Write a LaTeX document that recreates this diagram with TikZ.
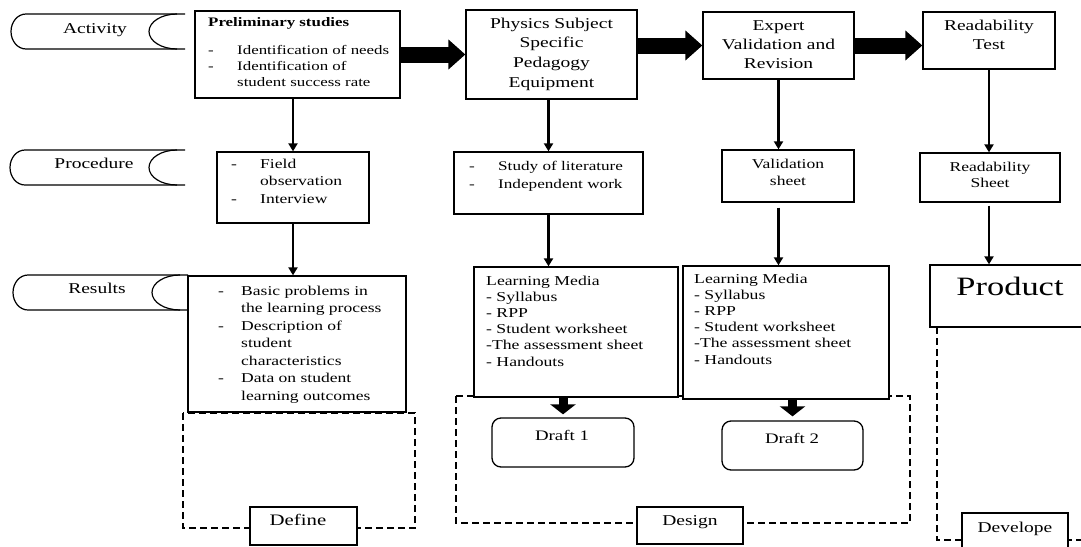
\documentclass[tikz,border=0pt]{standalone}
\usepackage{fontspec}
\setmainfont{Liberation Serif}[FakeStretch=1.3]
\usetikzlibrary{arrows.meta,calc}
\newcommand\leftlines[1]{\vtop{\halign{##\hfil\cr#1\crcr}}}
\newcommand\centerlines[1]{\vtop{\halign{\hfil##\hfil\cr#1\crcr}}}
\newcommand\dashw[1]{\hbox to #1{-\hfil}}
\newcommand\fsz[2]{\fontsize{#1}{#2}\selectfont}
\newcommand\tabshape[4]{%
  \draw[tabline] ({#1+15},#2) -- (#3,#2) (#3,#4) -- ({#1+15},#4)
    .. controls ({#1+15-0.552*15},#4) and (#1,{(#2+#4)/2+0.552*(#4-#2)/2}) .. (#1,{(#2+#4)/2})
    .. controls (#1,{(#2+#4)/2-0.552*(#4-#2)/2}) and ({#1+15-0.552*15},#2) .. ({#1+15},#2);
  \draw[tabline] ({#3-8},#2)
    .. controls ({#3-8-0.552*28},#2) and ({#3-36},{(#2+#4)/2-0.552*(#4-#2)/2}) .. ({#3-36},{(#2+#4)/2})
    .. controls ({#3-36},{(#2+#4)/2+0.552*(#4-#2)/2}) and ({#3-8-0.552*28},#4) .. ({#3-8},#4);
}
\begin{document}
\begin{tikzpicture}[x=1pt,y=-1pt,
  box/.style={draw, line width=1.3pt, fill=white, inner sep=0pt, rectangle},
  dashbox/.style={draw, line width=1.1pt, dash pattern=on 7pt off 4pt},
  conn/.style={line width=2.1pt, -{Triangle[length=8pt,width=9pt]}},
  bigarrow/.style={line width=16pt, -{Triangle[length=17pt,width=29pt]}},
  downarrow/.style={line width=9pt, -{Triangle[length=10pt,width=25pt]}},
  txt/.style={inner sep=0pt},
  tabline/.style={line width=1.2pt}]
\useasboundingbox (0,0) rectangle (1081,546);
\clip (0,0) rectangle (1081,546);

% dashed phase frames
\draw[dashbox] (183,413) rectangle (415,528);
\draw[dashbox] (456,396) rectangle (910,523);
\draw[dashbox] (937,327) rectangle (1100,540);

% tabs
\tabshape{11}{14}{185}{49}
\tabshape{10}{150}{185}{185}
\tabshape{13}{275}{188}{310}
\node[txt, anchor=base] (tabact) at (95,33) {\fsz{15}{18}Activity};
\node[txt, anchor=base] (tabproc) at (94,168) {\fsz{15}{18}Procedure};
\node[txt, anchor=base] (tabres) at (97,293) {\fsz{15}{18}Results};

% boxes
\node[box, minimum width=205pt, minimum height=87pt] (prelim) at (297.5,54.5) {};
\node[box, minimum width=152pt, minimum height=71pt] (field) at (293,187.5) {};
\node[box, minimum width=218pt, minimum height=136pt] (results) at (297,344) {};
\node[box, minimum width=171pt, minimum height=89pt] (physics) at (551.5,54.5) {};
\node[box, minimum width=151pt, minimum height=67pt] (expert) at (778.5,45.5) {};
\node[box, minimum width=132pt, minimum height=57pt] (readtest) at (989,40.5) {};
\node[box, minimum width=189pt, minimum height=62pt] (study) at (548.5,183) {};
\node[box, minimum width=132pt, minimum height=52pt] (valid) at (788,176) {};
\node[box, minimum width=140pt, minimum height=49pt] (readsheet) at (990,177.5) {};
\node[box, minimum width=204pt, minimum height=130pt] (lmone) at (576,332) {};
\node[box, minimum width=206pt, minimum height=133pt] (lmtwo) at (786,332.5) {};
\node[box, minimum width=170pt, minimum height=62pt] (product) at (1015,296) {};
\node[box, rounded corners=9pt, minimum width=142pt, minimum height=49pt] (draftone) at (563,442.5) {};
\node[box, rounded corners=9pt, minimum width=141pt, minimum height=49pt] (drafttwo) at (792.5,445.5) {};
\node[box, minimum width=107pt, minimum height=38pt] (definelab) at (303.5,526) {};
\node[box, minimum width=106pt, minimum height=37pt] (designlab) at (690,525.5) {};
\node[box, minimum width=106pt, minimum height=47pt] (developelab) at (1015,536.5) {};

% texts
\node[txt, anchor=base west] (prelimtxt) at (208,27) {\fsz{13}{15.5}\leftlines{\textbf{Preliminary studies}\cr\noalign{\vskip 12.5pt}\dashw{29pt}Identification of needs\cr\dashw{29pt}Identification of\cr\hskip29pt student success rate}};
\node[txt, anchor=base west] (fieldtxt) at (231,168) {\fsz{13.5}{17.5}\leftlines{\dashw{29pt}Field\cr\hskip29pt observation\cr\dashw{29pt}Interview}};
\node[txt, anchor=base west] (resultstxt) at (218,295) {\fsz{13.5}{17.5}\leftlines{\dashw{23pt}Basic problems in\cr\hskip23pt the learning process\cr\dashw{23pt}Description of\cr\hskip23pt student\cr\hskip23pt characteristics\cr\dashw{23pt}Data on student\cr\hskip23pt learning outcomes}};
\node[txt, anchor=base west] (studytxt) at (469,170) {\fsz{13.2}{18}\leftlines{\dashw{29pt}Study of literature\cr\dashw{29pt}Independent work}};
\node[txt, anchor=base west] (lmonetxt) at (486,285) {\fsz{13.6}{16.2}\leftlines{Learning Media\cr - Syllabus\cr - RPP\cr - Student worksheet\cr -The assessment sheet\cr - Handouts}};
\node[txt, anchor=base west] (lmtwotxt) at (694,283) {\fsz{13.6}{16.2}\leftlines{Learning Media\cr - Syllabus\cr - RPP\cr - Student worksheet\cr -The assessment sheet\cr - Handouts}};
\node[txt, anchor=base] (physicstxt) at (551.5,28) {\fsz{15}{19.7}\centerlines{Physics Subject\cr Specific\cr Pedagogy\cr Equipment}};
\node[txt, anchor=base] (experttxt) at (778.5,30) {\fsz{15}{19}\centerlines{Expert\cr Validation and\cr Revision}};
\node[txt, anchor=base] (readtesttxt) at (989,30) {\fsz{15}{20}\centerlines{Readability\cr Test}};
\node[txt, anchor=base] (validtxt) at (788,168) {\fsz{13.5}{17}\centerlines{Validation\cr sheet}};
\node[txt, anchor=base] (readsheettxt) at (990,171) {\fsz{13.5}{16.5}\centerlines{Readability\cr Sheet}};
\node[txt, anchor=base] (producttxt) at (1010,295) {\fsz{26.5}{30}Product};
\node[txt, anchor=base] (draftonetxt) at (562,440) {\fsz{14.5}{17}Draft 1};
\node[txt, anchor=base] (drafttwotxt) at (792,443) {\fsz{14.5}{17}Draft 2};
\node[txt, anchor=base] (definetxt) at (298,525) {\fsz{16}{18}Define};
\node[txt, anchor=base] (designtxt) at (690,525) {\fsz{15}{18}Design};
\node[txt, anchor=base] (developetxt) at (1015,532) {\fsz{15}{18}Develope};

% thin connectors
\draw[conn] (prelim.south -| field.north) -- (field.north);
\draw[conn] (field.south) -- (field.south |- results.north);
\draw[conn] (study.north |- physics.south) -- (study.north);
\draw[conn] (study.south) -- (study.south |- lmone.north);
\draw[conn] (expert.south) -- (expert.south |- valid.north);
\draw[conn, shorten <=5pt] (valid.south -| expert.south) -- (expert.south |- lmtwo.north);
\draw[conn] (readtest.south) -- (readtest.south |- readsheet.north);
\draw[conn, shorten <=3pt] (readsheet.south -| readtest.south) -- (readtest.south |- product.north);

% block arrows
\draw[bigarrow] (prelim.east) -- (physics.west |- prelim.east);
\draw[bigarrow] (physics.east |- expert.west) -- (expert.west);
\draw[bigarrow] (expert.east) -- (readtest.west |- expert.east);
\draw[downarrow] (lmone.south -| draftone.north) -- ($(draftone.north)+(0,-3)$);
\draw[downarrow] (lmtwo.south -| drafttwo.north) -- ($(drafttwo.north)+(0,-4)$);
\end{tikzpicture}
\end{document}
